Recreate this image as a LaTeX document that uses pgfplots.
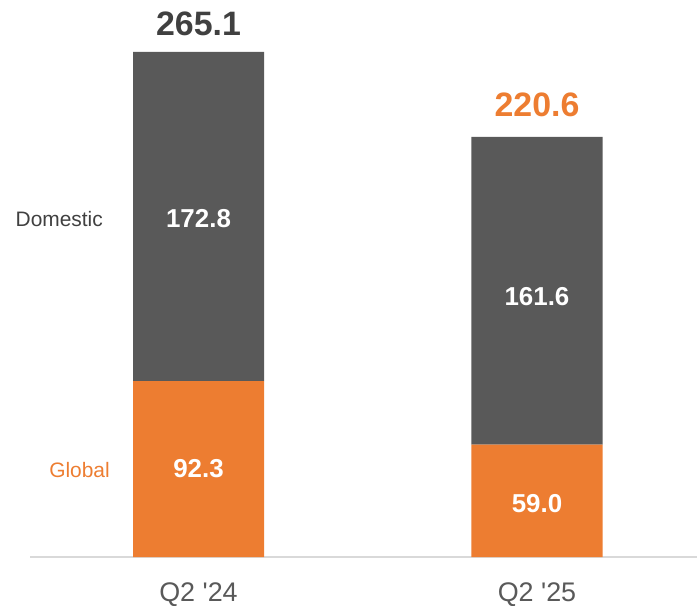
\documentclass[border=0pt]{standalone}
\usepackage{pgfplots}
\pgfplotsset{compat=1.18}
\usepackage{fontspec}
\setmainfont{Liberation Sans}
\definecolor{dgray}{HTML}{595959}
\definecolor{orng}{HTML}{ED7D31}
\definecolor{lgray}{HTML}{D9D9D9}
\definecolor{tgray}{HTML}{404040}
\begin{document}
\begin{tikzpicture}
\useasboundingbox (0,0) rectangle (697bp,606bp);
\begin{axis}[
  at={(30bp,49bp)}, anchor=south west,
  scale only axis, width=667bp, height=552.45bp,
  ymin=0, ymax=290,
  xmin=-0.4978, xmax=1.4727,
  ybar stacked, bar width=131bp,
  axis y line=none,
  axis x line=bottom,
  x axis line style={-, draw=lgray, line width=1.2bp},
  xtick=data, xticklabels={Q2 \textquotesingle 24, Q2 \textquotesingle 25},
  major tick length=0,
  xticklabel style={anchor=base, yshift=-44bp, font=\fontsize{27}{30}\selectfont, text=dgray, inner sep=0pt},
  clip=false,
]
\addplot[fill=orng, draw=none] coordinates {(0,92.3) (1,59.0)};
\addplot[fill=dgray, draw=none] coordinates {(0,172.8) (1,161.6)};
\coordinate (a1) at (axis cs:0,172.9);
\coordinate (a2) at (axis cs:0,41.5);
\coordinate (b1) at (axis cs:1,132);
\coordinate (b2) at (axis cs:1,23.5);
% totals
\node[anchor=base, text=tgray, font=\fontsize{34}{38}\selectfont\bfseries] at (axis cs:0,273.5) {265.1};
\node[anchor=base, text=orng, font=\fontsize{34}{38}\selectfont\bfseries] at (axis cs:1,231) {220.6};
% series labels
\node[anchor=base east, text=tgray, font=\fontsize{21}{24}\selectfont, inner sep=0pt] at (axis cs:-0.282,173.5) {Domestic};
\node[anchor=base east, text=orng, font=\fontsize{21}{24}\selectfont, inner sep=0pt] at (axis cs:-0.2615,41.7) {Global};
\end{axis}
\begin{scope}[every node/.style={anchor=base, text=white, font=\fontsize{26}{30}\selectfont\bfseries}]
\node at (a1) {172.8};
\node at (a2) {92.3};
\node at (b1) {161.6};
\node at (b2) {59.0};
\end{scope}
\end{tikzpicture}
\end{document}
